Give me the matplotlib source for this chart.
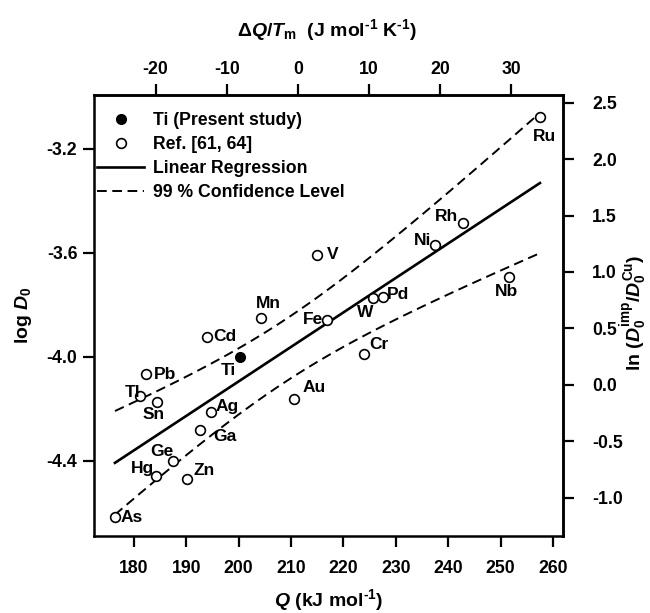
import numpy as np
import matplotlib.pyplot as plt

plt.rcParams['font.family'] = 'Liberation Sans'
plt.rcParams['font.weight'] = 'bold'
plt.rcParams['axes.labelweight'] = 'bold'
plt.rcParams['font.size'] = 12.5
plt.rcParams['axes.unicode_minus'] = False
plt.rcParams['mathtext.fontset'] = 'custom'
plt.rcParams['mathtext.rm'] = 'Liberation Sans:bold'
plt.rcParams['mathtext.it'] = 'Liberation Sans:italic:bold'
plt.rcParams['mathtext.bf'] = 'Liberation Sans:bold'
plt.rcParams['lines.scale_dashes'] = False

# literature impurity data, Ref. [61, 64]
elements = ['As', 'Hg', 'Ge', 'Zn', 'Ga', 'Ag', 'Sn', 'Tl', 'Pb', 'Cd', 'Mn',
            'Fe', 'Au', 'V', 'W', 'Pd', 'Cr', 'Ni', 'Rh', 'Nb', 'Ru']
q_ref = [176.4, 184.2, 187.5, 190.2, 192.7, 194.7, 184.5, 181.2, 182.4, 194.0, 204.3,
         216.9, 210.5, 214.9, 225.7, 227.6, 224.0, 237.5, 242.8, 251.5, 257.5]
logd_ref = [-4.618, -4.458, -4.402, -4.469, -4.282, -4.215, -4.173, -4.151, -4.067, -3.923, -3.852,
            -3.858, -4.163, -3.609, -3.775, -3.771, -3.991, -3.570, -3.485, -3.695, -3.077]

# present study
q_ti = 200.3
logd_ti = -4.003

# Cu self-diffusion reference
q_cu = 211.3
tm_cu = 1357.77
logd_cu = -4.109
t99 = 2.861  # Student t, 99 %, n-2 = 19

# label placement (pixels from marker, alignment)
label_pos = {
    'As': (6, 0, 'left'), 'Hg': (-2, 7, 'right'), 'Ge': (0, 10, 'right'),
    'Zn': (6, 8, 'left'), 'Ga': (13, -7, 'left'), 'Ag': (5, 6, 'left'),
    'Sn': (-4, -13, 'center'), 'Tl': (0, 3, 'right'), 'Pb': (7, 0, 'left'),
    'Cd': (6, 0, 'left'), 'Mn': (7, 15, 'center'), 'Fe': (-4, 0, 'right'),
    'Au': (9, 11, 'left'), 'V': (10, 0, 'left'), 'W': (-8, -14, 'center'),
    'Pd': (4, 3, 'left'), 'Cr': (5, 10, 'left'), 'Ni': (-4, 4, 'right'),
    'Rh': (-5, 6, 'right'), 'Nb': (-2, -14, 'center'), 'Ru': (5, -20, 'center'),
}

q = np.array(q_ref)
y = np.array(logd_ref)
n = len(q)
slope, icpt = np.polyfit(q, y, 1)
qq = np.linspace(q.min(), q.max(), 200)
fit = icpt + slope * qq
s = np.sqrt(np.sum((y - (icpt + slope * q)) ** 2) / (n - 2))
band = t99 * s * np.sqrt(1 / n + (qq - q.mean()) ** 2 / np.sum((q - q.mean()) ** 2))

W, H = 650, 613
fig = plt.figure(figsize=(W / 100, H / 100), dpi=100)
ax = fig.add_axes([94 / W, 1 - 536 / H, 469 / W, 441 / H])

h_fit, = ax.plot(qq, fit, color='black', lw=1.9, label='Linear Regression')
h_cl, = ax.plot(qq, fit + band, color='black', lw=1.4, dashes=(7, 4),
                label='99 % Confidence Level')
ax.plot(qq, fit - band, color='black', lw=1.4, dashes=(7, 4))
h_ref, = ax.plot(q_ref, logd_ref, 'o', ms=7, mfc='white', mec='black', mew=1.2,
                 label='Ref. [61, 64]', zorder=3)
h_ti, = ax.plot([q_ti], [logd_ti], 'o', ms=7, mfc='black', mec='black',
                label='Ti (Present study)', zorder=3)

for el, xq, yd in zip(elements, q_ref, logd_ref):
    dx, dy, ha = label_pos[el]
    ax.annotate(el, (xq, yd), xytext=(dx, dy), textcoords='offset pixels',
                ha=ha, va='center')
ax.annotate('Ti', (q_ti, logd_ti), xytext=(-12, -13), textcoords='offset pixels',
            ha='center', va='center')

ax.set_xlim(172.4, 261.9)
ax.set_ylim(-4.69, -2.994)
ax.set_xticks(np.arange(180, 261, 10))
ax.set_yticks([-4.4, -4.0, -3.6, -3.2])
ax.yaxis.set_major_formatter('{x:.1f}')

top = ax.secondary_xaxis('top', functions=(lambda x: (x - q_cu) * 1000 / tm_cu,
                                            lambda d: d * tm_cu / 1000 + q_cu))
right = ax.secondary_yaxis('right', functions=(lambda v: np.log(10) * (v - logd_cu),
                                                lambda l: l / np.log(10) + logd_cu))
top.set_xticks(np.arange(-20, 31, 10))
right.set_yticks(np.arange(-1.0, 2.6, 0.5))
right.yaxis.set_major_formatter('{x:.1f}')

for a in (ax, top, right):
    for sp in a.spines.values():
        sp.set_linewidth(1.8)
    a.tick_params(direction='out', length=8, width=1.6, labelsize=12.7)
ax.tick_params(axis='x', pad=9)
ax.tick_params(axis='y', pad=4)
top.tick_params(pad=4)
right.tick_params(pad=13)

hy = '\u2010'
fs_lab = 14
fig.text(328.5 / W, 1 - 600 / H, '$Q$ (kJ mol$^{' + hy + '1}$)',
         ha='center', va='center', weight='bold', fontsize=fs_lab)
fig.text(327.5 / W, 1 - 30 / H,
         r'$\Delta Q/T_\mathrm{m}$  (J mol$^{' + hy + '1}$ K$^{' + hy + '1}$)',
         ha='center', va='center', weight='bold', fontsize=fs_lab)
fig.text(24 / W, 1 - 315 / H, r'log $D_0$', rotation=90,
         ha='center', va='center', weight='bold', fontsize=fs_lab)
fig.text(634 / W, 1 - 313 / H, r'ln ($D_0^{\mathrm{imp}}/D_0^{\mathrm{Cu}}$)',
         rotation=90, ha='center', va='center', weight='bold', fontsize=fs_lab)

ax.legend(handles=[h_ti, h_ref, h_fit, h_cl], loc='upper left',
          bbox_to_anchor=(0.006, 0.962), frameon=False, borderpad=0,
          borderaxespad=0, handlelength=2.7, handletextpad=0.5,
          labelspacing=0.4, fontsize=12.7)

fig.savefig('out.png', dpi=100)
